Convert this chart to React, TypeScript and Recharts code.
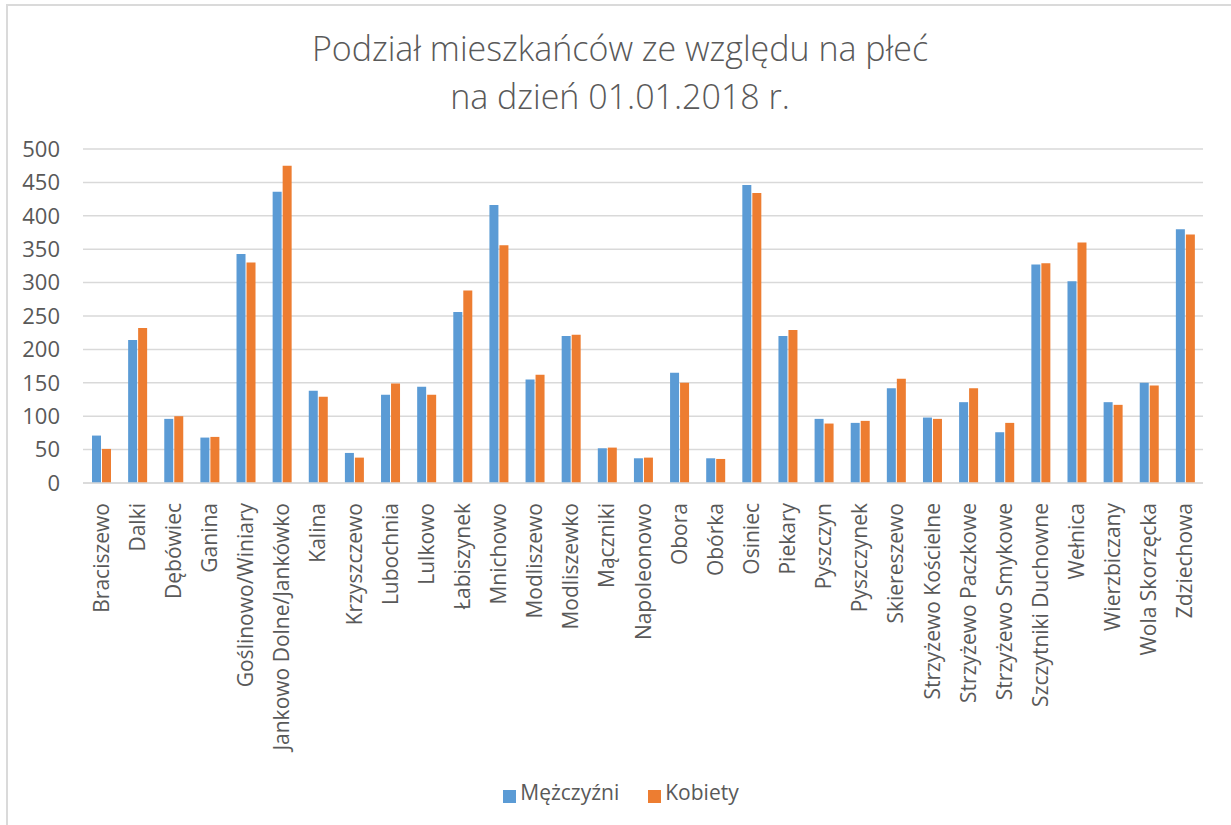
import { BarChart, Bar, XAxis, YAxis, CartesianGrid, Legend } from 'recharts'

const villages = [
  'Braciszewo', 'Dalki', 'Dębówiec', 'Ganina', 'Goślinowo/Winiary', 'Jankowo Dolne/Jankówko',
  'Kalina', 'Krzyszczewo', 'Lubochnia', 'Lulkowo', 'Łabiszynek', 'Mnichowo', 'Modliszewo',
  'Modliszewko', 'Mączniki', 'Napoleonowo', 'Obora', 'Obórka', 'Osiniec', 'Piekary', 'Pyszczyn',
  'Pyszczynek', 'Skiereszewo', 'Strzyżewo Kościelne', 'Strzyżewo Paczkowe', 'Strzyżewo Smykowe',
  'Szczytniki Duchowne', 'Wełnica', 'Wierzbiczany', 'Wola Skorzęcka', 'Zdziechowa',
]

const men = [
  71, 214, 96, 68, 343, 436, 138, 45, 132, 144, 256, 416, 155,
  220, 52, 37, 165, 37, 446, 220, 96,
  90, 142, 98, 121, 76, 327, 302, 121, 150, 380,
]

const women = [
  51, 232, 100, 69, 330, 475, 129, 38, 149, 132, 288, 356, 162,
  222, 53, 38, 150, 36, 434, 229, 89,
  93, 156, 96, 142, 90, 329, 360, 117, 146, 372,
]

const yTicks = [0, 50, 100, 150, 200, 250, 300, 350, 400, 450, 500]

const data = villages.map((name, i) => ({ name, men: men[i], women: women[i] }))

const FONT = '"Open Sans", sans-serif'
const GRAY = '#595959'

function VillageTick(props: any) {
  const { x, y, payload } = props
  return (
    <g transform={`translate(${x},${y + 18})`}>
      <text
        transform="rotate(-90)"
        textAnchor="end"
        dy="0.36em"
        fill={GRAY}
        fontSize={21}
        fontFamily={FONT}
      >
        {payload.value}
      </text>
    </g>
  )
}

export default function App() {
  return (
    <div style={{ position: 'absolute', left: 0, top: 0, width: 1231, height: 825, background: '#fff', overflow: 'hidden' }}>
      <div
        style={{
          position: 'absolute', left: 6, top: 4, width: 1300, height: 900,
          borderLeft: '2px solid #dadada', borderTop: '2px solid #dadada',
        }}
      />
      <div
        style={{
          position: 'absolute', left: 0, top: 24, width: 1240, textAlign: 'center',
          fontFamily: FONT, fontWeight: 300, fontSize: 34, lineHeight: '48px', color: GRAY,
        }}
      >
        Podział mieszkańców ze względu na płeć
        <br />
        na dzień 01.01.2018 r.
      </div>
      <BarChart
        width={1231}
        height={825}
        data={data}
        margin={{ top: 149, right: 28, left: 0, bottom: 0 }}
        barCategoryGap={8}
        barGap={1}
        style={{ position: 'absolute', left: 0, top: 0 }}
      >
        <CartesianGrid vertical={false} stroke="#d9d9d9" strokeWidth={1.5} />
        <XAxis
          dataKey="name"
          interval={0}
          height={299}
          tickLine={false}
          tickSize={0}
          axisLine={{ stroke: '#d9d9d9', strokeWidth: 1.5 }}
          tick={<VillageTick />}
        />
        <YAxis
          width={83}
          domain={[0, 500]}
          ticks={yTicks}
          axisLine={false}
          tickLine={false}
          tickSize={0}
          tickMargin={23}
          tick={{ fill: GRAY, fontSize: 22, fontFamily: FONT }}
        />
        <Legend
          verticalAlign="bottom"
          align="center"
          height={43}
          iconType="square"
          iconSize={13}
          itemSorter={(item: any) => (item.dataKey === 'men' ? 0 : 1)}
          wrapperStyle={{ bottom: 4, left: 34 }}
          formatter={(value: string) => (
            <span style={{ color: GRAY, fontSize: 21, fontFamily: FONT, marginRight: 19 }}>{value}</span>
          )}
        />
        <Bar dataKey="men" name="Mężczyźni" fill="#5B9BD5" barSize={9} isAnimationActive={false} />
        <Bar dataKey="women" name="Kobiety" fill="#ED7D31" barSize={9} isAnimationActive={false} />
      </BarChart>
    </div>
  )
}
